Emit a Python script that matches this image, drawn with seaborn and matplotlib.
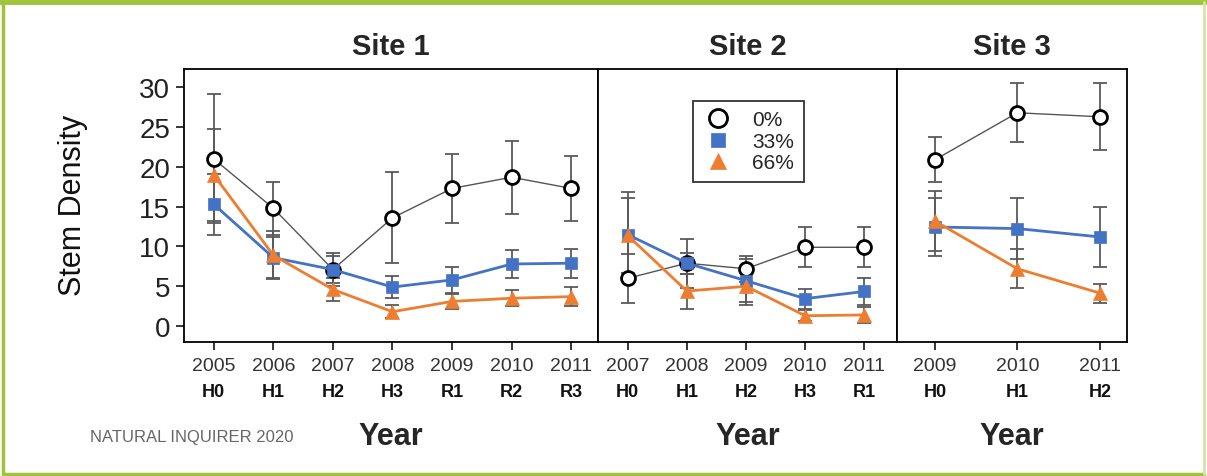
import numpy as np
import pandas as pd
import seaborn as sns
import matplotlib.pyplot as plt
from matplotlib.lines import Line2D

sns.set_style("white")
plt.rcParams['font.family'] = ['Liberation Sans', 'DejaVu Sans']

treatments = ["0%", "33%", "66%"]

# Site 1
site1_years = [2005, 2006, 2007, 2008, 2009, 2010, 2011]
site1_codes = ["H0", "H1", "H2", "H3", "R1", "R2", "R3"]
site1_p0 = [21.0, 14.8, 7.1, 13.6, 17.3, 18.7, 17.3]
site1_p0_err = [8.1, 3.3, 2.1, 5.7, 4.3, 4.6, 4.1]
site1_p33 = [15.3, 8.6, 7.1, 4.9, 5.8, 7.8, 7.9]
site1_p33_err = [3.8, 2.6, 1.7, 1.4, 1.6, 1.8, 1.8]
site1_p66 = [19.0, 8.9, 4.6, 1.8, 3.1, 3.5, 3.7]
site1_p66_err = [5.8, 3.0, 1.5, 0.8, 0.9, 1.0, 1.2]

# Site 2
site2_years = [2007, 2008, 2009, 2010, 2011]
site2_codes = ["H0", "H1", "H2", "H3", "R1"]
site2_p0 = [6.0, 7.9, 7.2, 9.9, 9.9]
site2_p0_err = [3.1, 3.1, 1.6, 2.5, 2.5]
site2_p33 = [11.5, 7.9, 5.7, 3.45, 4.35]
site2_p33_err = [5.3, 1.3, 2.7, 1.25, 1.7]
site2_p66 = [11.4, 4.4, 5.0, 1.3, 1.4]
site2_p66_err = [4.7, 2.2, 2.4, 0.7, 1.0]

# Site 3
site3_years = [2009, 2010, 2011]
site3_codes = ["H0", "H1", "H2"]
site3_p0 = [20.9, 26.8, 26.3]
site3_p0_err = [2.85, 3.7, 4.2]
site3_p33 = [12.45, 12.25, 11.2]
site3_p33_err = [3.6, 3.8, 3.75]
site3_p66 = [13.2, 7.2, 4.15]
site3_p66_err = [3.75, 2.45, 1.2]

sites = [
    ("Site 1", site1_years, site1_codes,
     [(site1_p0, site1_p0_err), (site1_p33, site1_p33_err), (site1_p66, site1_p66_err)]),
    ("Site 2", site2_years, site2_codes,
     [(site2_p0, site2_p0_err), (site2_p33, site2_p33_err), (site2_p66, site2_p66_err)]),
    ("Site 3", site3_years, site3_codes,
     [(site3_p0, site3_p0_err), (site3_p33, site3_p33_err), (site3_p66, site3_p66_err)]),
]

rows = []
for site, years, codes, series in sites:
    for t, (m, e) in zip(treatments, series):
        for y, c, mv, ev in zip(years, codes, m, e):
            rows.append(dict(site=site, year=y, code=c, treatment=t, mean=mv, err=ev))
df = pd.DataFrame(rows)

styles = {
    "0%": dict(color="#555555", lw=1.0, marker="o", mfc="white", mec="black", mew=2.0, ms=10),
    "33%": dict(color="#4472C4", lw=2.0, marker="s", mfc="#4472C4", mec="#4472C4", mew=0.5, ms=9),
    "66%": dict(color="#ED7D31", lw=2.0, marker="^", mfc="#ED7D31", mec="#ED7D31", mew=0.5, ms=10),
}
legend_ms = {"0%": 13, "33%": 10, "66%": 12}

W, H = 1207, 477
fig = plt.figure(figsize=(W / 100, H / 100), dpi=100)

# panel placement in pixels: left, right
panels = [(184, 598), (598, 897), (897, 1127)]
xlims = [(2004.5, 2011.45), (2006.5, 2011.55), (2008.54, 2011.33)]
ax_top, ax_bot = 70, 343

axes = []
for (l, r) in panels:
    ax = fig.add_axes([l / W, 1 - ax_bot / H, (r - l) / W, (ax_bot - ax_top) / H])
    axes.append(ax)

for i, (ax, (site, years, codes, series)) in enumerate(zip(axes, sites)):
    sub = df[df.site == site]
    for k, t in enumerate(treatments):
        d = sub[sub.treatment == t]
        ax.errorbar(d["year"], d["mean"], yerr=d["err"], fmt="none", ecolor="#5a5a5a",
                    elinewidth=1.3, capsize=5, capthick=1.3, zorder=1)
    for k, t in enumerate(treatments):
        d = sub[sub.treatment == t]
        s = styles[t]
        sns.lineplot(data=d, x="year", y="mean", ax=ax, color=s["color"], linewidth=s["lw"],
                     marker=s["marker"], markerfacecolor=s["mfc"], markeredgecolor=s["mec"],
                     markeredgewidth=s["mew"], markersize=s["ms"], errorbar=None,
                     zorder=2 + k)
    ax.set_xlim(*xlims[i])
    ax.set_ylim(-2, 32.3)
    ax.set_xticks(years)
    ax.set_xticklabels([str(y) for y in years], fontsize=14, color="#333333")
    ax.set_xlabel("")
    ax.set_ylabel("")
    for sp in ax.spines.values():
        sp.set_visible(True)
        sp.set_color("black")
        sp.set_linewidth(1.3)
    ax.tick_params(axis="x", bottom=True, direction="out", length=6, width=1.3, pad=5)
    if i == 0:
        ax.set_yticks([0, 5, 10, 15, 20, 25, 30])
        ax.tick_params(axis="y", left=True, direction="out", length=6, width=1.3,
                       labelsize=20, pad=4, labelcolor="#222222")
    else:
        ax.set_yticks([])
    ax.set_title(site, fontsize=21, fontweight="bold", pad=11)
    for y, c in zip(years, codes):
        ax.text(y, -0.183, c, transform=ax.get_xaxis_transform(), ha="center", va="center",
                fontsize=13, fontweight="bold", color="#111111")
    ax.text(0.5, -0.344, "Year", transform=ax.transAxes, ha="center", va="center",
            fontsize=22, fontweight="bold")

axes[0].text(-0.268, 0.505, "Stem Density", transform=axes[0].transAxes, rotation=90,
             ha="center", va="center", fontsize=22, color="#111111")

handles = [Line2D([], [], linestyle="none", marker=styles[t]["marker"],
                  markerfacecolor=styles[t]["mfc"], markeredgecolor=styles[t]["mec"],
                  markeredgewidth=styles[t]["mew"], markersize=legend_ms[t])
           for t in treatments]
leg = axes[1].legend(handles, treatments, loc="upper left", bbox_to_anchor=(0.318, 0.883),
                     borderaxespad=0, fontsize=15, frameon=True, fancybox=False,
                     labelspacing=0.12, handletextpad=0.9, borderpad=0.45, handlelength=1.5)
leg.get_frame().set_edgecolor("black")
leg.get_frame().set_linewidth(1.3)

fig.text(90 / W, 1 - 438 / H, "NATURAL INQUIRER 2020", fontsize=12,
         color="#666666", ha="left", va="center")

# green frame
green = "#9fc33a"
fig.add_artist(Line2D([0, 1], [1 - 3 / H, 1 - 3 / H], transform=fig.transFigure,
                      color=green, lw=3.5))
fig.add_artist(Line2D([3 / W, 3 / W], [1 - 3 / H, 2 / H], transform=fig.transFigure,
                      color=green, lw=2.5))
fig.add_artist(Line2D([3 / W, 1204 / W], [2 / H, 2 / H], transform=fig.transFigure,
                      color=green, lw=2.5))
fig.add_artist(Line2D([1204 / W, 1204 / W], [1 - 3 / H, 2 / H], transform=fig.transFigure,
                      color="#d4e5a6", lw=2))

fig.savefig("out.png", dpi=100)
